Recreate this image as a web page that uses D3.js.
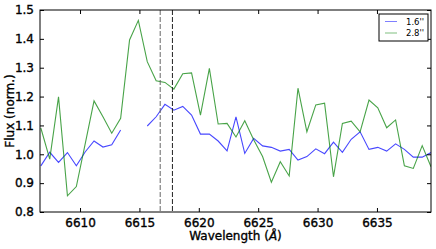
<!DOCTYPE html>
<html>
<head>
    <meta charset="utf-8">
    <title>Flux</title>
    <script src="https://d3js.org/d3.v7.min.js" charset="utf-8"></script>
    <style type="text/css">
        body { margin: 0; background: #fff; }
        .textset { font-family: 'DejaVu Sans', sans-serif; }
        .heavy text, text.heavy { stroke: #000; stroke-width: 0.35px; }
    </style>
</head>
<body>
    <script type="text/javascript">

        // wavelength grid (Angstrom)
        var wave = [6606.70, 6607.45, 6608.19, 6608.94, 6609.69, 6610.43, 6611.18, 6611.93, 6612.67, 6613.42,
                    6614.17, 6614.91, 6615.66, 6616.41, 6617.15, 6617.90, 6618.65, 6619.39, 6620.14, 6620.89,
                    6621.63, 6622.38, 6623.13, 6623.87, 6624.62, 6625.37, 6626.11, 6626.86, 6627.61, 6628.35,
                    6629.10, 6629.85, 6630.59, 6631.34, 6632.09, 6632.83, 6633.58, 6634.33, 6635.07, 6635.82,
                    6636.57, 6637.31, 6638.06, 6638.81, 6639.55];

        // 1.6'' aperture (gap where no data)
        var flux16 = [0.960, 1.007, 0.972, 1.006, 0.960, 1.008, 1.046, 1.025, 1.033, 1.084,
                      null, null, 1.098, 1.130, 1.173, 1.153, 1.166, 1.136, 1.070, 1.070,
                      1.046, 1.012, 1.130, 1.003, 1.055, 1.029, 1.024, 1.011, 1.017, 0.980,
                      0.992, 1.019, 1.002, 1.042, 1.007, 1.052, 1.078, 1.017, 1.024, 1.011,
                      1.036, 1.017, 0.990, 0.990, 1.006];

        // 2.8'' aperture
        var flux28 = [1.091, 0.983, 1.199, 0.856, 0.888, 1.035, 1.185, 1.130, 1.073, 1.125,
                      1.396, 1.464, 1.321, 1.255, 1.249, 1.226, 1.279, 1.282, 1.136, 1.298,
                      1.105, 1.107, 1.060, 1.116, 1.050, 0.992, 0.903, 0.974, 0.925, 1.229,
                      1.078, 1.171, 1.177, 0.922, 1.107, 1.115, 1.078, 1.188, 1.161, 1.092,
                      1.119, 0.960, 0.951, 1.030, 0.957];

        var seriesNames = ["1.6''", "2.8''"];
        var markers = [6616.75, 6617.78];
        var xTicks = [6610, 6615, 6620, 6625, 6630, 6635];
        var yTicks = [0.8, 0.9, 1.0, 1.1, 1.2, 1.3, 1.4, 1.5];

        var margin = { top: 10, right: 5, bottom: 37, left: 40 },
            width = 391,
            height = 202,
            fontSize = 12;

        var root = d3.select("body").append("svg")
            .attr("width", 436)
            .attr("height", 249);

        var svg = root.append("g")
            .attr("transform", "translate(" + margin.left + "," + margin.top + ")");

        var x = d3.scaleLinear().domain([6606.63, 6639.55]).range([0, width]);
        var y = d3.scaleLinear().domain([0.8, 1.5]).range([height, 0]);

        svg.append("clipPath").attr("id", "clip")
            .append("rect").attr("width", width).attr("height", height);

        var plot = svg.append("g").attr("clip-path", "url(#clip)");

        var line = d3.line()
            .defined(function (d) { return d[1] != null; })
            .x(function (d) { return x(d[0]); })
            .y(function (d) { return y(d[1]); });

        var series = [
            { name: seriesNames[0], color: "#0000ff", values: flux16 },
            { name: seriesNames[1], color: "#008000", values: flux28 }
        ];

        series.forEach(function (s) {
            plot.append("path")
                .datum(wave.map(function (w, i) { return [w, s.values[i]]; }))
                .attr("d", line)
                .attr("fill", "none")
                .attr("stroke", s.color)
                .attr("stroke-opacity", 0.72)
                .attr("stroke-width", 1.1);
        });

        // dashed marker lines
        plot.selectAll(".marker")
            .data(markers)
            .enter()
            .append("line")
            .attr("class", "marker")
            .attr("x1", function (d) { return x(d); })
            .attr("x2", function (d) { return x(d); })
            .attr("y1", 0)
            .attr("y2", height)
            .attr("stroke", function (d, i) { return i == 0 ? "#666" : "#222"; })
            .attr("stroke-width", 1)
            .attr("stroke-dasharray", "5,2");

        // axes, ticks inside on all sides
        var tickLen = 4;
        svg.append("g")
            .attr("class", "textset heavy")
            .attr("transform", "translate(0," + height + ")")
            .call(d3.axisBottom(x).tickValues(xTicks).tickSize(-tickLen).tickPadding(6).tickFormat(d3.format("d")));
        svg.append("g")
            .call(d3.axisTop(x).tickValues(xTicks).tickSize(-tickLen).tickFormat(""));
        svg.append("g")
            .attr("class", "textset heavy")
            .call(d3.axisLeft(y).tickValues(yTicks).tickSize(-tickLen).tickPadding(6).tickFormat(d3.format(".1f")));
        svg.append("g")
            .attr("transform", "translate(" + width + ",0)")
            .call(d3.axisRight(y).tickValues(yTicks).tickSize(-tickLen).tickFormat(""));

        svg.selectAll(".domain").remove();
        svg.selectAll(".tick line").attr("stroke", "#000");
        svg.selectAll(".tick text")
            .attr("font-size", fontSize + "px")
            .attr("font-family", "'DejaVu Sans', sans-serif")
            .attr("fill", "#000");

        svg.append("rect")
            .attr("width", width)
            .attr("height", height)
            .attr("fill", "none")
            .attr("stroke", "#000")
            .attr("stroke-width", 1);

        // axis labels
        var xl = svg.append("text")
            .attr("class", "textset heavy")
            .attr("x", width / 2)
            .attr("y", height + 28)
            .attr("text-anchor", "middle")
            .attr("font-size", fontSize + "px");
        xl.append("tspan").text("Wavelength (");
        xl.append("tspan").attr("font-style", "italic").text("Å");
        xl.append("tspan").text(")");

        svg.append("text")
            .attr("class", "textset heavy")
            .attr("transform", "translate(-26," + (height / 2) + ") rotate(-90)")
            .attr("text-anchor", "middle")
            .attr("font-size", fontSize + "px")
            .text("Flux (norm.)");

        // legend
        var lg = svg.append("g").attr("transform", "translate(" + (width - 52) + ",4)");
        lg.append("rect")
            .attr("width", 49)
            .attr("height", 27)
            .attr("fill", "#fff")
            .attr("stroke", "#000")
            .attr("stroke-width", 1);
        series.forEach(function (s, i) {
            var gy = 7.5 + i * 11.5;
            lg.append("line")
                .attr("x1", 6).attr("x2", 18)
                .attr("y1", gy).attr("y2", gy)
                .attr("stroke", s.color)
                .attr("stroke-opacity", 0.5);
            lg.append("text")
                .attr("class", "textset")
                .attr("x", 27)
                .attr("y", gy + 3)
                .attr("font-size", "8.5px")
                .text(s.name);
        });

    </script>
</body>
</html>
